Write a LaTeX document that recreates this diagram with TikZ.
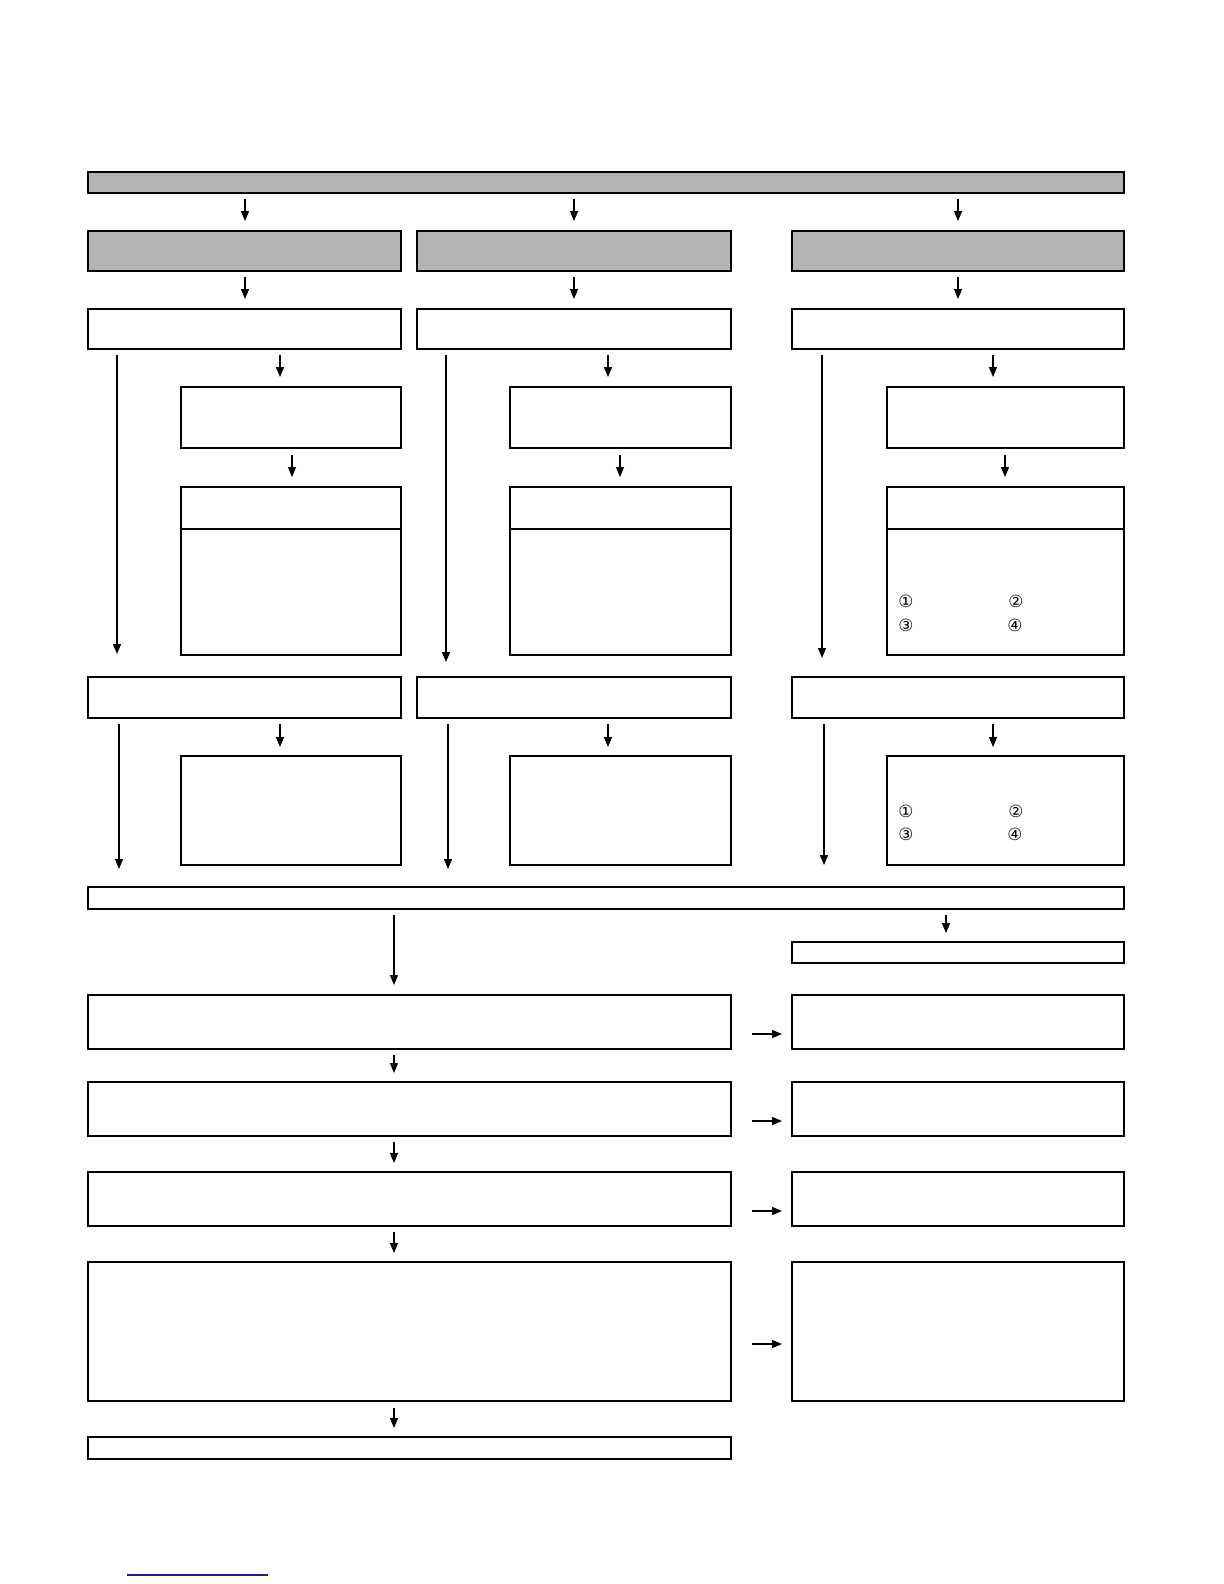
\documentclass[tikz,border=0pt]{standalone}
\usepackage{fontspec}
\newfontfamily\symfont{DejaVu Sans}
\usetikzlibrary{arrows.meta}
\definecolor{boxgray}{HTML}{B3B3B3}
\definecolor{linkblue}{HTML}{1C1C8A}
\tikzset{
  box/.style={draw=black,line width=0.8pt},
  graybox/.style={box,fill=boxgray},
  flow/.style={draw=black,line width=0.65pt,-{Triangle[length=5pt,width=4pt]}},
  num/.style={inner sep=0pt,font=\symfont\fontsize{8.5}{8.5}\selectfont},
}
\begin{document}
\begin{tikzpicture}[x=0.50505pt,y=-0.50505pt]
\useasboundingbox (0,0) rectangle (1224,1584);
% top bar
\draw[graybox] (88,172) rectangle (1124,193);
% gray row
\draw[graybox] (88,231) rectangle (401,271);
\draw[graybox] (417,231) rectangle (731,271);
\draw[graybox] (792,231) rectangle (1124,271);
% white row 1
\draw[box] (88,309) rectangle (401,349);
\draw[box] (417,309) rectangle (731,349);
\draw[box] (792,309) rectangle (1124,349);
% sub boxes
\draw[box] (181,387) rectangle (401,448);
\draw[box] (510,387) rectangle (731,448);
\draw[box] (887,387) rectangle (1124,448);
% divided boxes
\draw[box] (181,487) rectangle (401,655); \draw[box] (181,529) -- (401,529);
\draw[box] (510,487) rectangle (731,655); \draw[box] (510,529) -- (731,529);
\draw[box] (887,487) rectangle (1124,655); \draw[box] (887,529) -- (1124,529);
\node[num] (n1a) at (906,601) {①};
\node[num] (n2a) at (1016,601) {②};
\node[num] (n3a) at (906,625) {③};
\node[num] (n4a) at (1015,625) {④};
% white row 2
\draw[box] (88,677) rectangle (401,718);
\draw[box] (417,677) rectangle (731,718);
\draw[box] (792,677) rectangle (1124,718);
% lower sub boxes
\draw[box] (181,756) rectangle (401,865);
\draw[box] (510,756) rectangle (731,865);
\draw[box] (887,756) rectangle (1124,865);
\node[num] (n1b) at (906,811) {①};
\node[num] (n2b) at (1016,811) {②};
\node[num] (n3b) at (906,834) {③};
\node[num] (n4b) at (1015,834) {④};
% bus bar
\draw[box] (88,887) rectangle (1124,909);
% right small box
\draw[box] (792,942) rectangle (1124,963);
% main stack
\draw[box] (88,995) rectangle (731,1049);
\draw[box] (88,1082) rectangle (731,1136);
\draw[box] (88,1172) rectangle (731,1226);
\draw[box] (88,1262) rectangle (731,1401);
\draw[box] (88,1437) rectangle (731,1459);
% right stack
\draw[box] (792,995) rectangle (1124,1049);
\draw[box] (792,1082) rectangle (1124,1136);
\draw[box] (792,1172) rectangle (1124,1226);
\draw[box] (792,1262) rectangle (1124,1401);
% arrows from top
\foreach \x in {245,574,958} {
  \draw[flow] (\x,199) -- (\x,221);
  \draw[flow] (\x,277) -- (\x,299);
}
% long arrows row 1
\draw[flow] (117,355) -- (117,654);
\draw[flow] (446,355) -- (446,662);
\draw[flow] (822,355) -- (822,658);
% short arrows row 1
\foreach \x in {280,608,993} \draw[flow] (\x,355) -- (\x,377);
\foreach \x in {292,620,1005} \draw[flow] (\x,455) -- (\x,477);
% long arrows row 2
\draw[flow] (119,724) -- (119,869);
\draw[flow] (448,724) -- (448,869);
\draw[flow] (824,724) -- (824,865);
\foreach \x in {280,608,993} \draw[flow] (\x,724) -- (\x,747);
% below bus
\draw[flow] (394,915) -- (394,985);
\draw[flow] (946,915) -- (946,933);
\draw[flow] (394,1055) -- (394,1073);
\draw[flow] (394,1142) -- (394,1163);
\draw[flow] (394,1232) -- (394,1253);
\draw[flow] (394,1408) -- (394,1428);
% horizontal arrows
\foreach \y in {1034,1121,1211,1344} \draw[flow] (752,\y) -- (782,\y);
% blue line
\draw[linkblue,line width=0.7pt] (127,1575) -- (268,1575);
\end{tikzpicture}
\end{document}
